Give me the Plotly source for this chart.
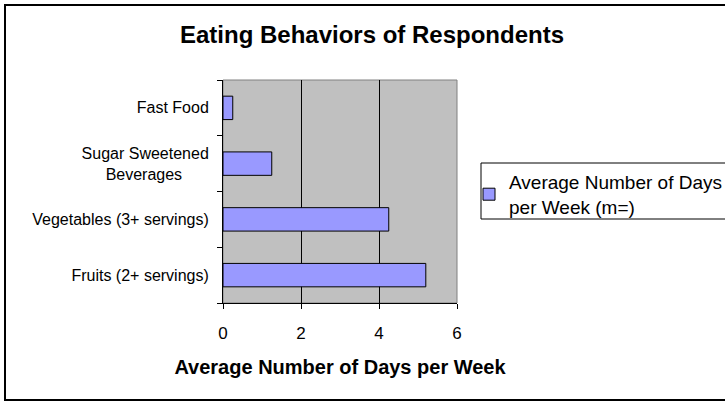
import plotly.graph_objects as go

categories = ["Fruits (2+ servings)", "Vegetables (3+ servings)",
              "Sugar Sweetened<br>Beverages" + "\u00a0" * 6, "Fast Food"]
values = [5.2, 4.25, 1.25, 0.25]
series_name = "Average Number of Days<br>per Week (m=)"
x_ticks = [0, 2, 4, 6]

W, H = 725, 401
L, R, T, B = 223, 268, 80, 98
pw, ph = W - L - R, H - T - B

def px_x(p):
    return (p - L) / pw

def px_y(p):
    return (H - B - p) / ph

fig = go.Figure()
fig.add_trace(go.Bar(
    y=categories, x=values, orientation="h", name=series_name,
    marker=dict(color="#9999FF", line=dict(color="black", width=1)),
    showlegend=True,
))

font = "Arial, Liberation Sans, sans-serif"
fig.update_layout(
    width=W, height=H,
    margin=dict(l=L, r=R, t=T, b=B, autoexpand=False),
    paper_bgcolor="white", plot_bgcolor="#C0C0C0",
    font=dict(family=font, color="black", size=16),
    bargap=0.58,
    title=dict(text="<b>Eating Behaviors of Respondents</b>",
               font=dict(size=24, family=font, color="black"),
               x=372 / W, xanchor="center", xref="container",
               y=1 - 35 / H, yanchor="middle", yref="container"),
    xaxis=dict(range=[0, 6], tickvals=x_ticks, showgrid=True,
               gridcolor="black", gridwidth=1, showline=True,
               linecolor="black", linewidth=1, ticks="outside", ticklen=5,
               tickcolor="black", tickfont=dict(size=17), zeroline=False,
               ticklabelstandoff=10,
               title=dict(text="<b>Average Number of Days per Week</b>",
                          font=dict(size=20), standoff=17),
               fixedrange=True),
    yaxis=dict(type="category", categoryorder="array", categoryarray=categories,
               showline=True, linecolor="black", linewidth=1,
               ticks="outside", tickson="boundaries", ticklen=5,
               tickcolor="black", showgrid=False, tickfont=dict(size=16),
               ticklabelstandoff=10, fixedrange=True),
    legend=dict(x=px_x(469), xref="paper", xanchor="left",
                y=px_y(163), yanchor="top",
                bgcolor="rgba(0,0,0,0)", borderwidth=0,
                font=dict(size=19, family=font), tracegroupgap=0),
    shapes=[
        dict(type="rect", xref="paper", yref="paper",
             x0=0, x1=1, y0=0, y1=1, line=dict(color="#808080", width=1),
             layer="below"),
        dict(type="rect", xref="paper", yref="paper",
             x0=px_x(481), x1=px_x(740), y0=px_y(219), y1=px_y(163),
             line=dict(color="black", width=1)),
        dict(type="rect", xref="paper", yref="paper",
             x0=px_x(5), x1=px_x(740), y0=px_y(400), y1=px_y(5),
             line=dict(color="black", width=2)),
    ],
)

fig.write_html("out.html", config={"displayModeBar": False},
               post_script="document.body.style.margin='0';")
